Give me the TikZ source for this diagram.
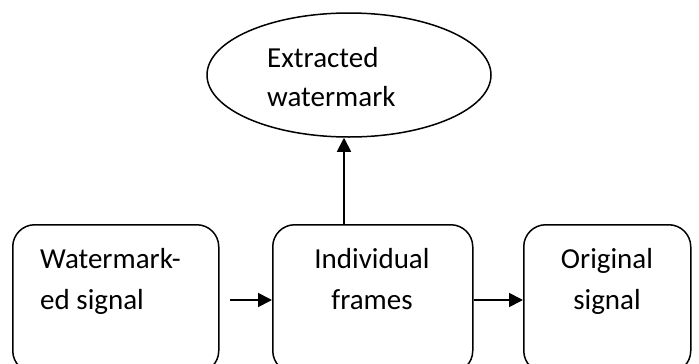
\documentclass[tikz,border=0pt]{standalone}
\usepackage{fontspec}
\setmainfont{Carlito}
\usetikzlibrary{arrows.meta,shapes.geometric}
\begin{document}
\begin{tikzpicture}[x=1pt,y=-1pt,
  boxstyle/.style={draw,line width=1.5pt,rounded corners=22pt,anchor=north west,minimum height=148pt},
  ovalstyle/.style={draw,ellipse,line width=1.5pt,minimum width=284pt,minimum height=124pt},
  lbl/.style={inner sep=0pt,font=\fontsize{29}{40}\selectfont},
  arr/.style={line width=1.7pt,-{Triangle[length=14pt,width=14pt]}}]
\clip (0,0) rectangle (699,364);
\fill[white] (0,0) rectangle (699,364);
\node[boxstyle,minimum width=206pt] (b1) at (12,224) {};
\node[boxstyle,minimum width=200pt] (b2) at (272,224) {};
\node[boxstyle,minimum width=167pt] (b3) at (523,224) {};
\node[ovalstyle] (e) at (349,75) {};
% texts
\node[lbl,anchor=base west] (t1a) at (40,268) {Watermark-};
\node[lbl,anchor=base west] (t1b) at (40,309) {ed signal};
\node[lbl,anchor=base] (t2a) at (372,268) {Individual};
\node[lbl,anchor=base] (t2b) at (372,309) {frames};
\node[lbl,anchor=base] (t3a) at (607,268) {Original};
\node[lbl,anchor=base] (t3b) at (607,309) {signal};
\node[lbl,anchor=base west] (tea) at (267,67) {Extracted};
\node[lbl,anchor=base west] (teb) at (267,106) {watermark};
% connectors
\coordinate (a1s) at (230,300);
\coordinate (vx) at (344,0);
\draw[arr] (a1s) -- (a1s -| b2.west);
\draw[arr] (a1s -| b2.east) -- (a1s -| b3.west);
\draw[arr] (vx |- b2.north) -- (vx |- e.south);
\end{tikzpicture}
\end{document}
